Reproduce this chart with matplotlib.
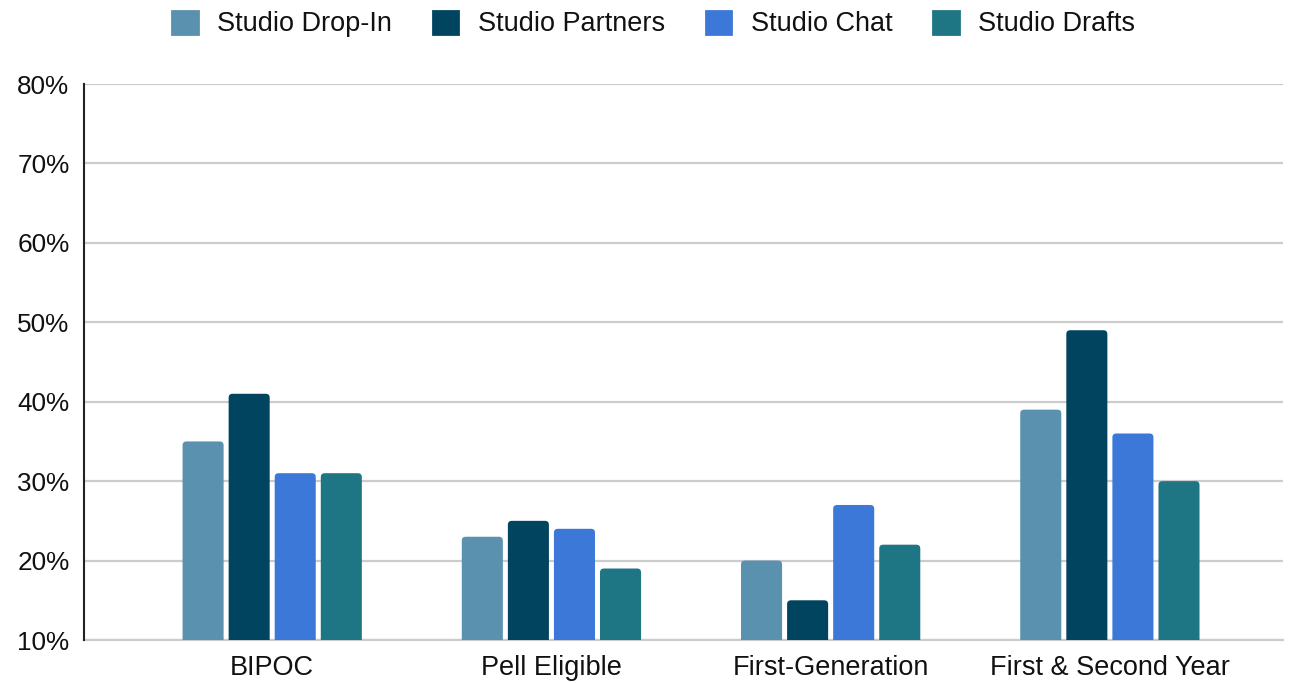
import matplotlib
matplotlib.use("Agg")
import matplotlib.pyplot as plt
import numpy as np
from matplotlib.patches import FancyBboxPatch, Patch

categories = ["BIPOC", "Pell Eligible", "First-Generation", "First & Second Year"]
series_names = ["Studio Drop-In", "Studio Partners", "Studio Chat", "Studio Drafts"]
drop_in = [35, 23, 20, 39]
partners = [41, 25, 15, 49]
chat = [31, 24, 27, 36]
drafts = [31, 19, 22, 30]
colors = ["#5a91ae", "#01445f", "#3c78d8", "#1e7584"]
y_ticks = [10, 20, 30, 40, 50, 60, 70, 80]

plt.rcParams['font.family'] = ['Liberation Sans', 'DejaVu Sans']

fig = plt.figure(figsize=(13.07, 6.83), dpi=100)
ax = fig.add_axes([84/1307, 1-640/683, (1283-84)/1307, (640-84)/683])

x = np.arange(len(categories))
pitch = 0.165
width = 0.147
base = 10
all_series = [drop_in, partners, chat, drafts]
for i, (vals, col, name) in enumerate(zip(all_series, colors, series_names)):
    offs = (i - 1.5) * pitch
    bars = ax.bar(x + offs, [v - base for v in vals], width, bottom=base, color=col, label=name, zorder=3)
    for b in bars:
        b.set_visible(False)
        bx, by = b.get_x(), b.get_y()
        bw, bh = b.get_width(), b.get_height()
        p = FancyBboxPatch((bx, by - 1), bw, bh + 1,
                           boxstyle="round,pad=0,rounding_size=0.014",
                           mutation_aspect=35.0,
                           facecolor=col, edgecolor='none', zorder=3)
        ax.add_patch(p)

ax.set_xlim(-0.674, 3.62)
ax.set_ylim(10, 80)
ax.set_yticks(y_ticks)
ax.set_yticklabels([f"{t}%" for t in y_ticks], fontsize=18.8, color="#111111")
ax.set_xticks(x)
ax.set_xticklabels(categories, fontsize=19.5, color="#111111")
ax.tick_params(axis='y', length=0, pad=10.5)
ax.tick_params(axis='x', length=0, pad=11)
ax.grid(axis='y', color='#cccccc', linewidth=1.6, zorder=0)
ax.set_axisbelow(True)
for s in ['top', 'right']:
    ax.spines[s].set_visible(False)
ax.spines['bottom'].set_color('#cccccc')
ax.spines['bottom'].set_linewidth(1.6)
ax.spines['left'].set_color('#222222')
ax.spines['left'].set_linewidth(1.5)
ax.spines['left'].set_zorder(4)

handles = [Patch(facecolor=c, edgecolor=c, linewidth=2.0, joinstyle='round') for c in colors]
leg = fig.legend(handles, series_names, loc='center', bbox_to_anchor=(0.5, 1-24/683),
                 ncol=4, frameon=False, fontsize=19.5, handlelength=0.95, handleheight=0.95,
                 handletextpad=0.72, columnspacing=1.5)
for t in leg.get_texts():
    t.set_color("#111111")

fig.savefig("out.png", dpi=100)
